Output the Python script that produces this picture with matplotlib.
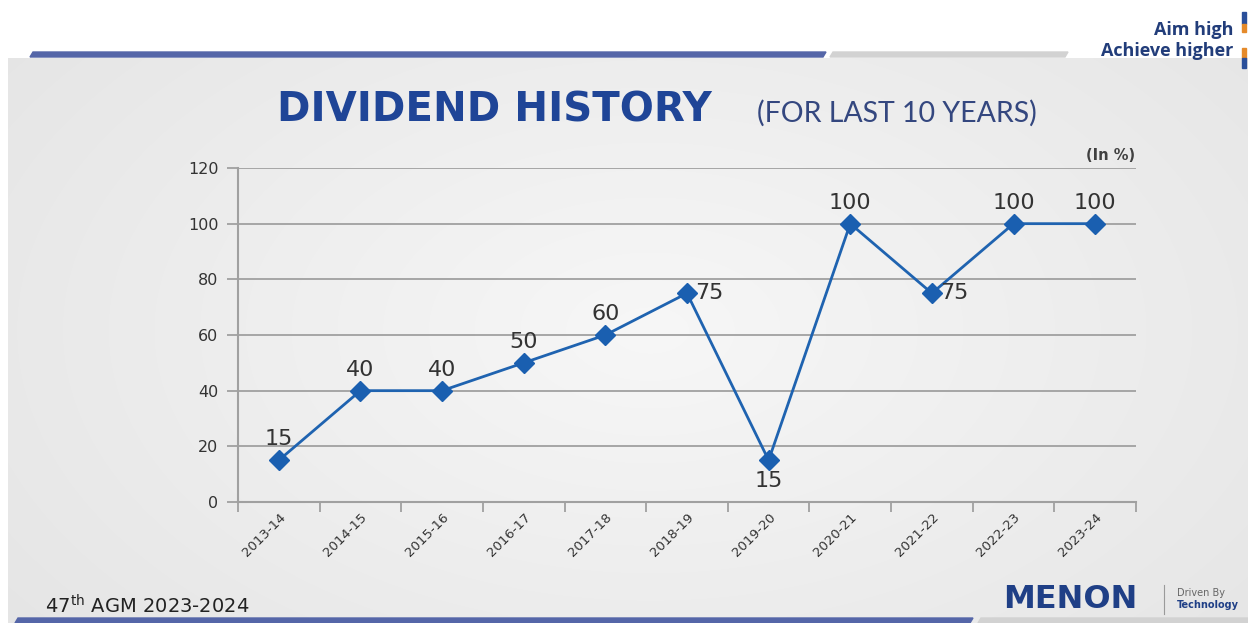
import numpy as np
import matplotlib
matplotlib.use("Agg")
import matplotlib.pyplot as plt
from matplotlib.patches import Polygon, Rectangle

years = ["2013-14", "2014-15", "2015-16", "2016-17", "2017-18", "2018-19",
         "2019-20", "2020-21", "2021-22", "2022-23", "2023-24"]
dividend = [15, 40, 40, 50, 60, 75, 15, 100, 75, 100, 100]
label_pos = ["above", "above", "above", "above", "above", "right",
             "below", "above", "right", "above", "above"]
yticks = [0, 20, 40, 60, 80, 100, 120]

W, H = 1248, 623
fig = plt.figure(figsize=(W / 100, H / 100), dpi=100)

# background axes in pixel coords
bg = fig.add_axes([0, 0, 1, 1])
bg.set_xlim(0, W)
bg.set_ylim(H, 0)
bg.axis("off")
yy, xx = np.mgrid[0:H, 0:W]
r = np.sqrt(((xx - 650) / 700.0) ** 2 + ((yy - 330) / 420.0) ** 2)
val = 0.968 - 0.06 * np.clip(r, 0, 1.2)
img = np.dstack([val, val, val])
img[:58, :, :] = 1.0
img[:, :8, :] = 1.0
bg.imshow(img, extent=[0, W, H, 0], aspect="auto", zorder=0)

# top bars
bg.add_patch(Polygon([[30, 57], [33, 52], [826, 52], [823, 57]], closed=True,
                     color="#5566a8", zorder=1))
bg.add_patch(Polygon([[830, 57], [833, 52], [1068, 52], [1065, 57]], closed=True,
                     color="#d2d2d2", zorder=1))
# bottom bars
bg.add_patch(Polygon([[15, 623], [18, 618], [973, 618], [970, 623]], closed=True,
                     color="#5566a8", zorder=1))
bg.add_patch(Polygon([[978, 623], [981, 618], [1248, 618], [1248, 623]], closed=True,
                     color="#d2d2d2", zorder=1))

navy = "#223d7a"
bg.text(1233, 30, "Aim high", ha="right", va="center", fontsize=13,
        fontweight="bold", color=navy, family="Open Sans")
bg.text(1233, 51, "Achieve higher", ha="right", va="center", fontsize=13,
        fontweight="bold", color=navy, family="Open Sans")
bg.add_patch(Rectangle((1242, 12), 4, 12, color="#2a4f9a", zorder=2))
bg.add_patch(Rectangle((1242, 24), 4, 8, color="#e58a2a", zorder=2))
bg.add_patch(Rectangle((1242, 48), 4, 10, color="#e58a2a", zorder=2))
bg.add_patch(Rectangle((1242, 58), 4, 10, color="#2a4f9a", zorder=2))

# title
bg.text(277, 110, "DIVIDEND HISTORY", ha="left", va="center", fontsize=29,
        fontweight="heavy", color="#1f4597", family="DejaVu Sans")
bg.text(757, 113, "(FOR LAST 10 YEARS)", ha="left", va="center", fontsize=20.5,
        color="#34477f", family="Lato")
bg.text(1135, 155, "(In %)", ha="right", va="center", fontsize=10.5,
        fontweight="bold", color="#404040", family="DejaVu Sans")

# footer
bg.text(45, 606, r"47$^{\rm th}$ AGM 2023-2024", ha="left", va="center",
        fontsize=14, color="#222222", family="DejaVu Sans")
bg.text(1003, 600, "MENON", ha="left", va="center", fontsize=23,
        fontweight="bold", color="#1f3f86", family="DejaVu Sans")
bg.plot([1164, 1164], [585, 614], color="#9a9a9a", lw=0.8)
bg.text(1177, 593, "Driven By", ha="left", va="center", fontsize=7,
        color="#666666", family="DejaVu Sans")
bg.text(1177, 605, "Technology", ha="left", va="center", fontsize=7,
        fontweight="bold", color="#1f3f86", family="DejaVu Sans")

# chart axes
x0, x1, ytop, ybot = 238, 1136, 168, 502
ax = fig.add_axes([x0 / W, (H - ybot) / H, (x1 - x0) / W, (ybot - ytop) / H])
ax.patch.set_alpha(0)
xs = np.arange(len(years))
ax.set_xlim(-0.5, len(years) - 0.5)
ax.set_ylim(0, 120)
ax.set_yticks(yticks)
ax.set_yticklabels([str(v) for v in yticks], fontsize=11.5, color="#333333")
ax.yaxis.grid(True, color="#a0a0a0", lw=1.3)
ax.set_axisbelow(True)
ax.set_xticks(np.arange(-0.5, len(years), 1.0), minor=False)
ax.set_xticklabels([])
ax.set_xticks(xs, minor=True)
ax.set_xticklabels(years, minor=True, rotation=45, ha="right",
                   rotation_mode="anchor", fontsize=9.5, color="#333333")
ax.tick_params(axis="x", which="major", length=7, color="#a0a0a0", width=1.3)
ax.tick_params(axis="x", which="minor", length=0, pad=6)
ax.tick_params(axis="y", length=8, color="#a0a0a0", width=1.3, pad=6)
for s in ["top", "right"]:
    ax.spines[s].set_visible(False)
for s in ["left", "bottom"]:
    ax.spines[s].set_color("#a0a0a0")
    ax.spines[s].set_linewidth(1.5)

ax.plot(xs, dividend, color="#1f63b0", lw=2, marker="D", markersize=10,
        markerfacecolor="#1a5fb0", markeredgecolor="#1a5fb0", zorder=3,
        clip_on=False)
for x, v, p in zip(xs, dividend, label_pos):
    kw = dict(textcoords="offset points", fontsize=16, color="#333333",
              family="DejaVu Sans")
    if p == "above":
        ax.annotate(str(v), (x, v), xytext=(0, 8), ha="center", va="bottom", **kw)
    elif p == "below":
        ax.annotate(str(v), (x, v), xytext=(0, -8), ha="center", va="top", **kw)
    else:
        ax.annotate(str(v), (x, v), xytext=(6, 0), ha="left", va="center", **kw)

fig.savefig("out.png", dpi=100)
